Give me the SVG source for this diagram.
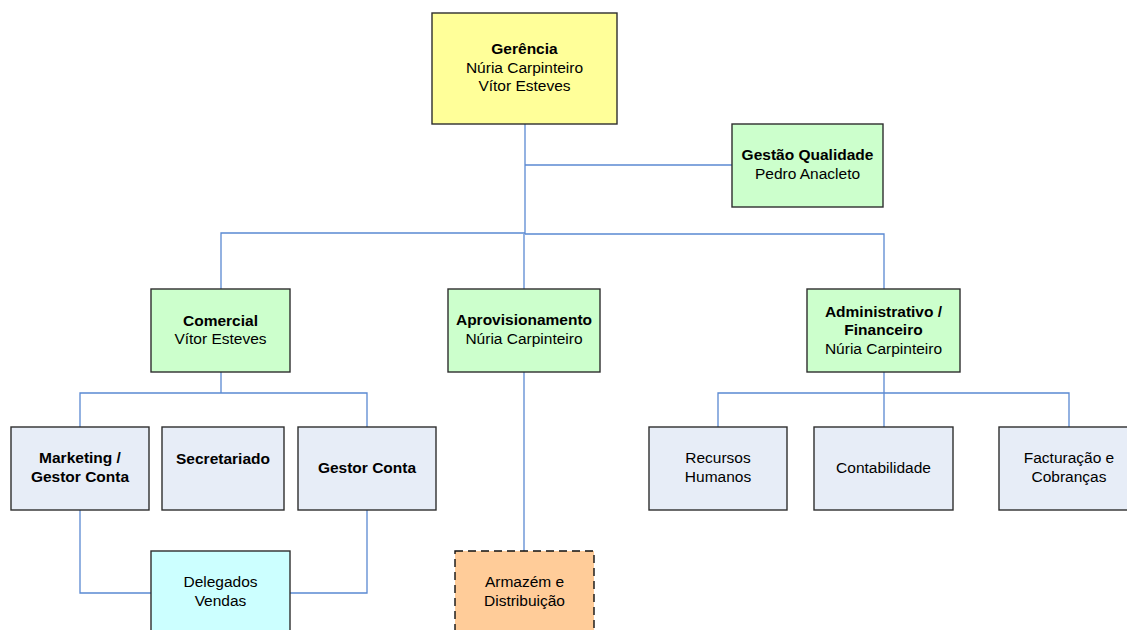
<svg xmlns="http://www.w3.org/2000/svg" width="1127" height="630" viewBox="0 0 1127 630">
<style>
.b{stroke:#2e2e2e;stroke-width:1.4}
.y{fill:#FFFF99}.g{fill:#CCFFCC}.l{fill:#E7EDF7}.c{fill:#CCFFFF}.o{fill:#FFCC99}
.d{stroke:#111;stroke-dasharray:8 5}
text{font-family:"Liberation Sans",Arial,sans-serif;font-size:15.5px;fill:#000;text-anchor:middle}
.t{font-weight:bold}
#connectors path{fill:none;stroke:#5A89D2;stroke-width:1.3}
</style>
<rect width="1127" height="630" fill="#fff"/>
<g id="connectors">
<path d="M525 124V234"/>
<path d="M525 165H732"/>
<path d="M525 233H221V289"/>
<path d="M525 234H884V289"/>
<path d="M524 234V289"/>
<path d="M221 372V393M80 427V393H367V427"/>
<path d="M80 510V593H151M367 510V593H290"/>
<path d="M524 372V551"/>
<path d="M884 372V427M718 427V393H1069V427"/>
</g>
<g id="gerencia"><rect class="b y" x="432" y="13" width="185" height="111"/>
<text x="524.5" y="54" class="t">Gerência</text><text x="524.5" y="73">Núria Carpinteiro</text><text x="524.5" y="91">Vítor Esteves</text></g>
<g id="qualidade"><rect class="b g" x="732" y="124" width="151" height="83"/>
<text x="807.5" y="160" class="t">Gestão Qualidade</text><text x="807.5" y="179">Pedro Anacleto</text></g>
<g id="comercial"><rect class="b g" x="151" y="289" width="139" height="83"/>
<text x="220.5" y="326" class="t">Comercial</text><text x="220.5" y="344">Vítor Esteves</text></g>
<g id="aprovisionamento"><rect class="b g" x="448" y="289" width="152" height="83"/>
<text x="524" y="325" class="t">Aprovisionamento</text><text x="524" y="344">Núria Carpinteiro</text></g>
<g id="administrativo"><rect class="b g" x="807" y="289" width="153" height="83"/>
<text x="883.5" y="317" class="t">Administrativo /</text><text x="883.5" y="335" class="t">Financeiro</text><text x="883.5" y="354">Núria Carpinteiro</text></g>
<g id="marketing"><rect class="b l" x="11" y="427" width="138" height="83"/>
<text x="80" y="463" class="t">Marketing /</text><text x="80" y="482" class="t">Gestor Conta</text></g>
<g id="secretariado"><rect class="b l" x="162" y="427" width="122" height="83"/>
<text x="223" y="464" class="t">Secretariado</text></g>
<g id="gestorconta"><rect class="b l" x="298" y="427" width="138" height="83"/>
<text x="367" y="473" class="t">Gestor Conta</text></g>
<g id="delegados"><rect class="b c" x="151" y="551" width="139" height="90"/>
<text x="220.5" y="587">Delegados</text><text x="220.5" y="606">Vendas</text></g>
<g id="armazem"><rect class="b o d" x="455" y="551" width="139" height="90"/>
<text x="524.5" y="587">Armazém e</text><text x="524.5" y="606">Distribuição</text></g>
<g id="rh"><rect class="b l" x="649" y="427" width="138" height="83"/>
<text x="718" y="463">Recursos</text><text x="718" y="482">Humanos</text></g>
<g id="contabilidade"><rect class="b l" x="814" y="427" width="139" height="83"/>
<text x="883.5" y="473">Contabilidade</text></g>
<g id="facturacao"><rect class="b l" x="999" y="427" width="140" height="83"/>
<text x="1069" y="463">Facturação e</text><text x="1069" y="482">Cobranças</text></g>
</svg>
